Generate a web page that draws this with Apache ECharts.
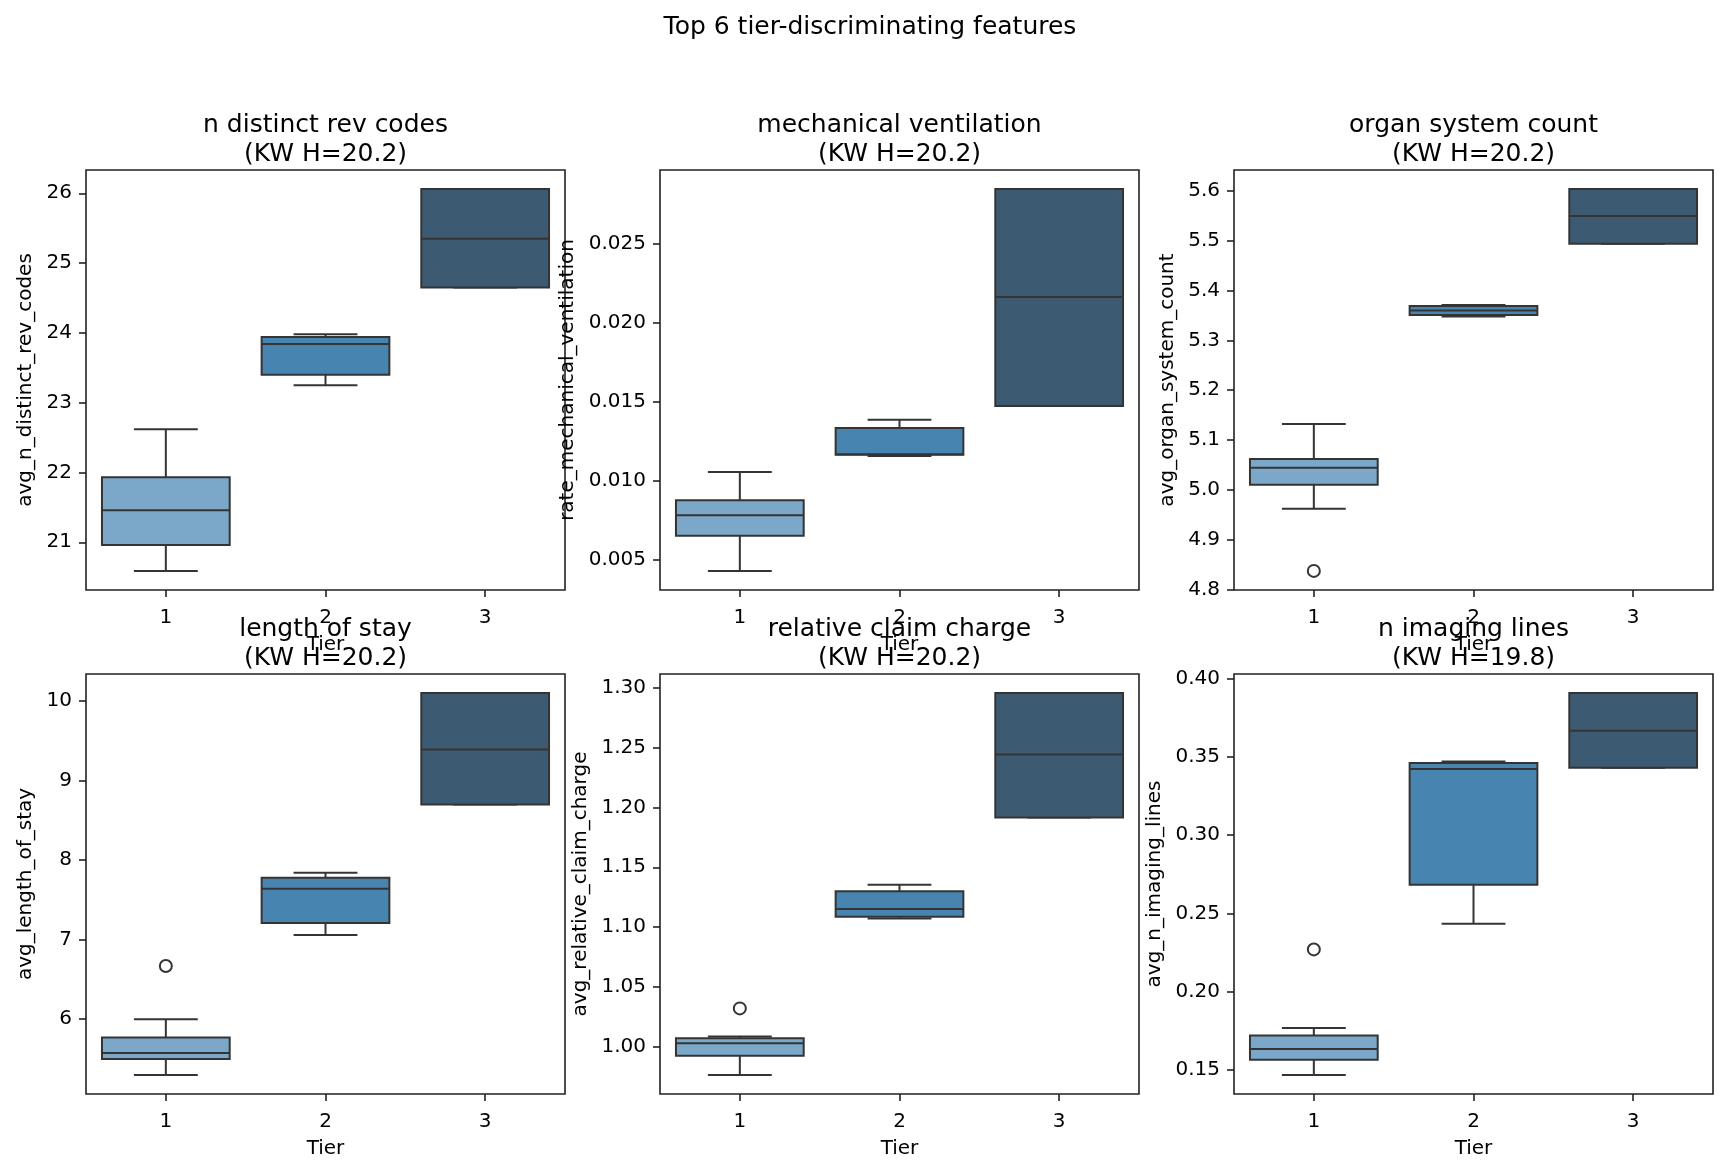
<!DOCTYPE html>
<html>
<head>
<meta charset="utf-8">
<script src="https://cdn.jsdelivr.net/npm/echarts@6/dist/echarts.min.js"></script>
<style>
  html, body { margin: 0; padding: 0; background: #fff; }
  #chart { width: 1728px; height: 1172px; }
</style>
</head>
<body>
<div id="chart"></div>
<script>
// ---------------- data ----------------
const tiers = ['1', '2', '3'];
const tierColors = ['#7ba8c8', '#4884b0', '#3c5a71'];

const suptitle = 'Top 6 tier-discriminating features';
const featureNames = ['n distinct rev codes', 'mechanical ventilation', 'organ system count',
                      'length of stay', 'relative claim charge', 'n imaging lines'];
const yLabels = ['avg_n_distinct_rev_codes', 'rate_mechanical_ventilation', 'avg_organ_system_count',
                 'avg_length_of_stay', 'avg_relative_claim_charge', 'avg_n_imaging_lines'];
const kwH = ['20.2', '20.2', '20.2', '20.2', '20.2', '19.8'];
const xLabel = 'Tier';

// box stats per tier: [lower whisker, q1, median, q3, upper whisker]
const revCodesStats = [[20.59, 20.96, 21.46, 21.93, 22.62],
                       [23.25, 23.40, 23.84, 23.94, 23.98],
                       [24.65, 24.65, 25.35, 26.06, 26.06]];
const ventilationStats = [[0.00430, 0.00652, 0.00783, 0.00878, 0.01057],
                          [0.01158, 0.01165, 0.01168, 0.01335, 0.01387],
                          [0.01475, 0.01475, 0.02165, 0.02848, 0.02848]];
const organStats = [[4.962, 5.010, 5.044, 5.062, 5.132],
                    [5.348, 5.351, 5.360, 5.369, 5.371],
                    [5.494, 5.494, 5.550, 5.604, 5.604]];
const stayStats = [[5.30, 5.50, 5.575, 5.77, 6.00],
                   [7.06, 7.21, 7.64, 7.78, 7.84],
                   [8.70, 8.70, 9.39, 10.10, 10.10]];
const chargeStats = [[0.9768, 0.9927, 1.0032, 1.0073, 1.0088],
                     [1.1072, 1.1087, 1.1152, 1.1301, 1.1354],
                     [1.1915, 1.1915, 1.2441, 1.2953, 1.2953]];
const imagingStats = [[0.1469, 0.1565, 0.1635, 0.1720, 0.1768],
                      [0.2433, 0.2683, 0.3422, 0.3460, 0.3469],
                      [0.3429, 0.3429, 0.3665, 0.3906, 0.3906]];

// outliers per tier
const revCodesOutliers = [[], [], []];
const ventilationOutliers = [[], [], []];
const organOutliers = [[4.837], [], []];
const stayOutliers = [[6.67], [], []];
const chargeOutliers = [[1.0323], [], []];
const imagingOutliers = [[0.227], [], []];

// y tick labels
const revCodesTicks = [21, 22, 23, 24, 25, 26];
const ventilationTicks = [0.005, 0.010, 0.015, 0.020, 0.025];
const organTicks = [4.8, 4.9, 5.0, 5.1, 5.2, 5.3, 5.4, 5.5, 5.6];
const stayTicks = [6, 7, 8, 9, 10];
const chargeTicks = [1.00, 1.05, 1.10, 1.15, 1.20, 1.25, 1.30];
const imagingTicks = [0.15, 0.20, 0.25, 0.30, 0.35, 0.40];
const tickDecimals = [0, 3, 1, 0, 2, 2];

const allStats = [revCodesStats, ventilationStats, organStats, stayStats, chargeStats, imagingStats];
const allOutliers = [revCodesOutliers, ventilationOutliers, organOutliers, stayOutliers, chargeOutliers, imagingOutliers];
const allTicks = [revCodesTicks, ventilationTicks, organTicks, stayTicks, chargeTicks, imagingTicks];

// ---------------- layout / style ----------------
const FONT = 'DejaVu Sans';
const LINE = '#343434';
const SPINE = '#222222';
const gridLefts = [86, 660, 1234];
const gridTops = [170, 674];
const gridW = 479, gridH = 420;
const yNameGaps = [50, 82, 56, 50, 69, 69];
const titleTops = [111, 615];

const chart = echarts.init(document.getElementById('chart'), null, { renderer: 'canvas' });

function renderBox(params, api) {
  const c = api.value(0);
  const band = api.size([1, 0])[0];
  const pMin = api.coord([c, api.value(1)]);
  const pQ1 = api.coord([c, api.value(2)]);
  const pMed = api.coord([c, api.value(3)]);
  const pQ3 = api.coord([c, api.value(4)]);
  const pMax = api.coord([c, api.value(5)]);
  const x = pMed[0];
  const bw = band * 0.8, cw = band * 0.4;
  const ls = { stroke: LINE, lineWidth: 2 };
  return {
    type: 'group',
    children: [
      { type: 'line', shape: { x1: x, y1: pQ1[1], x2: x, y2: pMin[1] }, style: ls },
      { type: 'line', shape: { x1: x - cw / 2, y1: pMin[1], x2: x + cw / 2, y2: pMin[1] }, style: ls },
      { type: 'line', shape: { x1: x, y1: pQ3[1], x2: x, y2: pMax[1] }, style: ls },
      { type: 'line', shape: { x1: x - cw / 2, y1: pMax[1], x2: x + cw / 2, y2: pMax[1] }, style: ls },
      { type: 'rect', shape: { x: x - bw / 2, y: pQ3[1], width: bw, height: pQ1[1] - pQ3[1] },
        style: { fill: api.visual('color'), stroke: LINE, lineWidth: 2 } },
      { type: 'line', shape: { x1: x - bw / 2, y1: pMed[1], x2: x + bw / 2, y2: pMed[1] }, style: ls }
    ]
  };
}

const grids = [], xAxes = [], yAxes = [], series = [];
const titles = [{
  text: suptitle, left: 870, top: 15, textAlign: 'center', padding: 0,
  textStyle: { fontFamily: FONT, fontSize: 25, fontWeight: 'normal', color: '#000', lineHeight: 25 }
}];

for (let i = 0; i < 6; i++) {
  const col = i % 3, row = Math.floor(i / 3);
  const stats = allStats[i];
  const outs = allOutliers[i];
  let lo = Infinity, hi = -Infinity;
  stats.forEach(s => { lo = Math.min(lo, s[0]); hi = Math.max(hi, s[4]); });
  outs.forEach(o => o.forEach(v => { lo = Math.min(lo, v); hi = Math.max(hi, v); }));
  const pad = (hi - lo) * 0.05;
  const dec = tickDecimals[i];

  grids.push({
    left: gridLefts[col], top: gridTops[row], width: gridW, height: gridH,
    show: true, borderColor: SPINE, borderWidth: 1.6, backgroundColor: '#fff', containLabel: false
  });
  xAxes.push({
    type: 'category', gridIndex: i, data: tiers, boundaryGap: true,
    name: xLabel, nameLocation: 'middle', nameGap: 45,
    nameTextStyle: { fontFamily: FONT, fontSize: 20, color: '#000' },
    axisLine: { show: false },
    axisTick: { show: true, alignWithLabel: true, inside: false, length: 7, lineStyle: { color: SPINE, width: 1.6 } },
    axisLabel: { fontFamily: FONT, fontSize: 20, color: '#000', margin: 18 },
    splitLine: { show: false }
  });
  yAxes.push({
    type: 'value', gridIndex: i, min: lo - pad, max: hi + pad, scale: true,
    name: yLabels[i], nameLocation: 'middle', nameGap: yNameGaps[i], nameRotate: 90,
    nameTextStyle: { fontFamily: FONT, fontSize: 20, color: '#000' },
    axisLine: { show: false },
    axisTick: { show: true, inside: false, length: 7, lineStyle: { color: SPINE, width: 1.6 }, customValues: allTicks[i] },
    axisLabel: { fontFamily: FONT, fontSize: 20, color: '#000', margin: 14, customValues: allTicks[i],
                 formatter: v => Number(v).toFixed(dec) },
    splitLine: { show: false }
  });
  series.push({
    type: 'custom', xAxisIndex: i, yAxisIndex: i, renderItem: renderBox,
    encode: { x: 0, y: [1, 2, 3, 4, 5] }, clip: false, silent: true,
    data: stats.map((s, t) => ({ value: [t].concat(s), itemStyle: { color: tierColors[t] } }))
  });
  const outData = [];
  outs.forEach((o, t) => o.forEach(v => outData.push([t, v])));
  series.push({
    type: 'scatter', xAxisIndex: i, yAxisIndex: i, symbol: 'circle', symbolSize: 12, silent: true,
    itemStyle: { color: 'rgba(0,0,0,0)', borderColor: LINE, borderWidth: 2, opacity: 1 },
    data: outData, z: 5
  });
  titles.push({
    text: featureNames[i] + '\n(KW H=' + kwH[i] + ')',
    left: gridLefts[col] + gridW / 2, top: titleTops[row], textAlign: 'center', padding: 0,
    textStyle: { fontFamily: FONT, fontSize: 25, fontWeight: 'normal', color: '#000', lineHeight: 29 }
  });
}

chart.setOption({
  backgroundColor: '#fff',
  animation: false,
  title: titles,
  grid: grids,
  xAxis: xAxes,
  yAxis: yAxes,
  series: series
});
</script>
</body>
</html>
